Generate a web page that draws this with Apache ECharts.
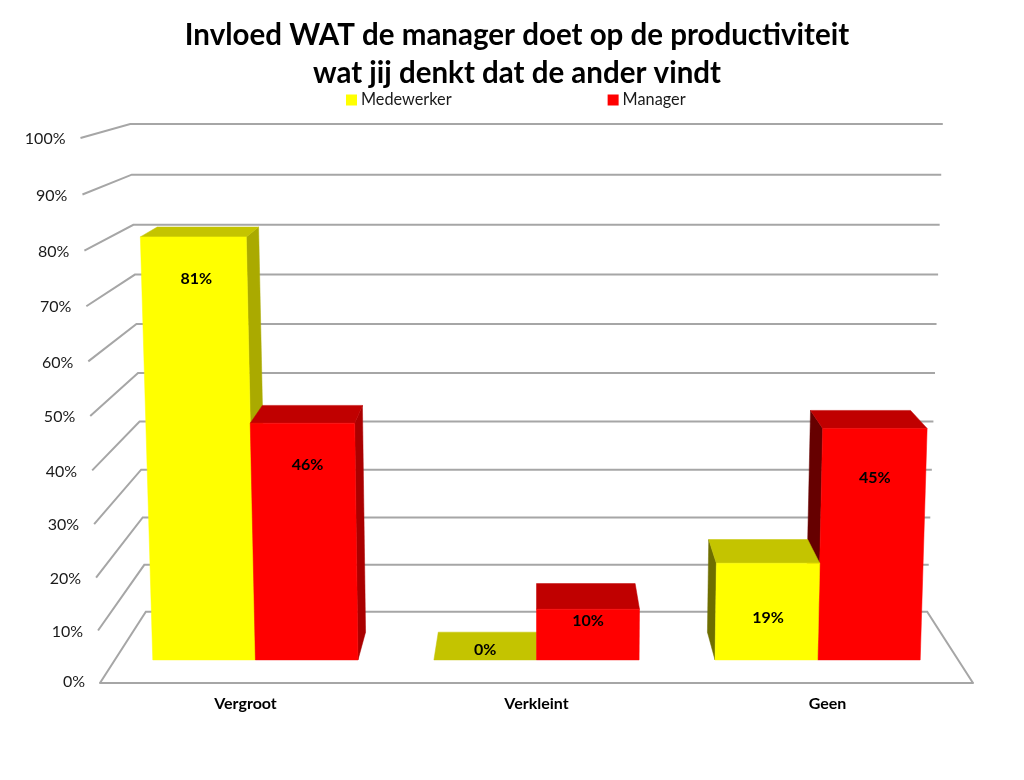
<!DOCTYPE html>
<html>
<head>
<meta charset="utf-8">
<style>html,body{margin:0;padding:0;background:#fff}#chart{width:1024px;height:780px}</style>
<script src="https://cdn.jsdelivr.net/npm/echarts@6/dist/echarts.min.js"></script>
</head>
<body>
<div id="chart"></div>
<script>
var categories = ['Vergroot', 'Verkleint', 'Geen'];
var medewerker = [81, 0, 19];
var manager = [46, 10, 45];
var yTicks = [0, 10, 20, 30, 40, 50, 60, 70, 80, 90, 100];
var titleText = 'Invloed WAT de manager doet op de productiviteit\nwat jij denkt dat de ander vindt';

// label nudges relative to each bar's front-top corner (layout only)
var labelDyMed = [42, -10, 55], labelDyMan = [42, 12, 49];
var labelDxMed = [3, 0, 0], labelDxMan = [5, 0, 0];

// perspective of the 3D scene
var VP = [536.5, 5], WIDEN = 0.04, WIDEN_EDGE = 0.0447, BEND = 0.042;
var S_FRONT = 0.966, S_BACK = 0.925, S_WALL = 0.895;
var BAR_FRAC = 0.365;
var FONT = 'Lato, sans-serif';

function projector(cs) {
  var bottom = cs.y + cs.height, h = cs.height;
  return function (pt, s, widen) {
    var t = (bottom - pt[1]) / h;
    var f = t / (1 + BEND - BEND * t);
    var Y = bottom - h * f;
    var X = VP[0] + (pt[0] - VP[0]) * (1 + (widen === undefined ? WIDEN : widen) * t);
    return [VP[0] + (X - VP[0]) * s, VP[1] + (Y - VP[1]) * s];
  };
}
function poly(points, fill, z2) {
  return { type: 'polygon', z2: z2, shape: { points: points }, style: { fill: fill, stroke: fill, lineWidth: 0.5 } };
}

function renderWall(params, api) {
  var cs = params.coordSys, p = projector(cs);
  var v = api.value(1);
  var yPix = api.coord([0, v])[1];
  var L = [cs.x, yPix], R = [cs.x + cs.width, yPix];
  var a = p(L, 1, WIDEN_EDGE), b = p(L, S_WALL), c = p(R, S_WALL), d = p(R, 1);
  var pts = v === 0 ? [a, b, c, d] : [a, b, c];
  return {
    type: 'group',
    children: [
      { type: 'polyline', z2: 1, shape: { points: pts },
        style: { fill: null, stroke: '#a6a6a6', lineWidth: 2 } },
      { type: 'text', z2: 1,
        style: { x: a[0] - 15, y: a[1] - (v === 0 ? 1 : -1), text: v + '%', fill: '#1a1a1a',
                 font: '16px ' + FONT, align: 'right', verticalAlign: 'middle' } }
    ]
  };
}

function barRenderer(side, cols, dys, dxs) {
  // side: -1 bar sits left of the category centre, +1 right of it
  return function (params, api) {
    var i = api.value(0), v = api.value(1);
    var cs = params.coordSys, p = projector(cs);
    var base = api.coord([i, 0]), top = api.coord([i, v]);
    var w = api.size([1, 0])[0] * BAR_FRAC;
    var x0 = side < 0 ? base[0] - w : base[0];
    var x1 = x0 + w;
    var fBL = p([x0, base[1]], S_FRONT), fBR = p([x1, base[1]], S_FRONT);
    var fTL = p([x0, top[1]], S_FRONT), fTR = p([x1, top[1]], S_FRONT);
    var bBL = p([x0, base[1]], S_BACK), bBR = p([x1, base[1]], S_BACK);
    var bTL = p([x0, top[1]], S_BACK), bTR = p([x1, top[1]], S_BACK);
    var mid = p([(x0 + x1) / 2, top[1]], S_FRONT);

    // painter's order: bars further from the eye's centre line are drawn first
    var order = (x0 + x1) / 2 < VP[0] ? (side < 0 ? 10 : 20) : (side < 0 ? 20 : 10);
    if (i === 1) order = side < 0 ? 10 : 20;
    var kids = [];
    if (x1 < VP[0]) kids.push(poly([fTR, bTR, bBR, fBR], cols.right, order));
    if (x0 > VP[0]) kids.push(poly([fTL, bTL, bBL, fBL], cols.left, order));
    kids.push(poly([fTL, fTR, bTR, bTL], cols.top, order + 1));
    if (v > 0) kids.push(poly([fBL, fBR, fTR, fTL], cols.front, order + 2));
    kids.push({ type: 'text', z2: 40,
      style: { x: mid[0] + dxs[i], y: mid[1] + dys[i], text: v + '%', fill: '#000',
               font: 'bold 16px ' + FONT, align: 'center', verticalAlign: 'middle' } });
    return { type: 'group', children: kids };
  };
}

function pairs(values) { return values.map(function (v, i) { return [i, v]; }); }

var chart = echarts.init(document.getElementById('chart'), null, { renderer: 'canvas' });
chart.setOption({
  animation: false,
  backgroundColor: '#fff',
  title: {
    text: titleText, left: 512, top: 11, textAlign: 'center',
    textStyle: { fontFamily: FONT, fontWeight: 'bold', fontSize: 29.5, lineHeight: 38, color: '#000' }
  },
  legend: {
    left: 341, top: 87, itemWidth: 11, itemHeight: 11, itemGap: 156, icon: 'rect',
    data: ['Medewerker', 'Manager'],
    textStyle: { fontFamily: FONT, fontSize: 16.3, color: '#1a1a1a', padding: [0, 0, 0, -1] }
  },
  grid: { left: 100, right: 51, top: 138, bottom: 97 },
  xAxis: {
    type: 'category', data: categories,
    axisLine: { show: true, lineStyle: { color: '#a6a6a6', width: 2 } },
    axisTick: { show: false },
    axisLabel: { margin: 13, fontFamily: FONT, fontWeight: 'bold', fontSize: 16, color: '#000' },
    splitLine: { show: false }
  },
  yAxis: {
    type: 'value', min: 0, max: 100, interval: 10,
    axisLine: { show: false }, axisTick: { show: false },
    axisLabel: { show: false }, splitLine: { show: false }
  },
  series: [
    { type: 'custom', name: 'ticks', silent: true, legendHoverLink: false,
      data: yTicks.map(function (v) { return [0, v]; }), encode: { x: 0, y: 1 },
      renderItem: renderWall },
    { type: 'custom', name: 'Medewerker', itemStyle: { color: '#ffff00' },
      data: pairs(medewerker), encode: { x: 0, y: 1 },
      renderItem: barRenderer(-1,
        { front: '#ffff00', top: '#c4c400', right: '#aaaa00', left: '#6e6e00' },
        labelDyMed, labelDxMed) },
    { type: 'custom', name: 'Manager', itemStyle: { color: '#ff0000' },
      data: pairs(manager), encode: { x: 0, y: 1 },
      renderItem: barRenderer(1,
        { front: '#ff0000', top: '#c00000', right: '#aa0000', left: '#660000' },
        labelDyMan, labelDxMan) }
  ]
});
</script>
</body>
</html>
